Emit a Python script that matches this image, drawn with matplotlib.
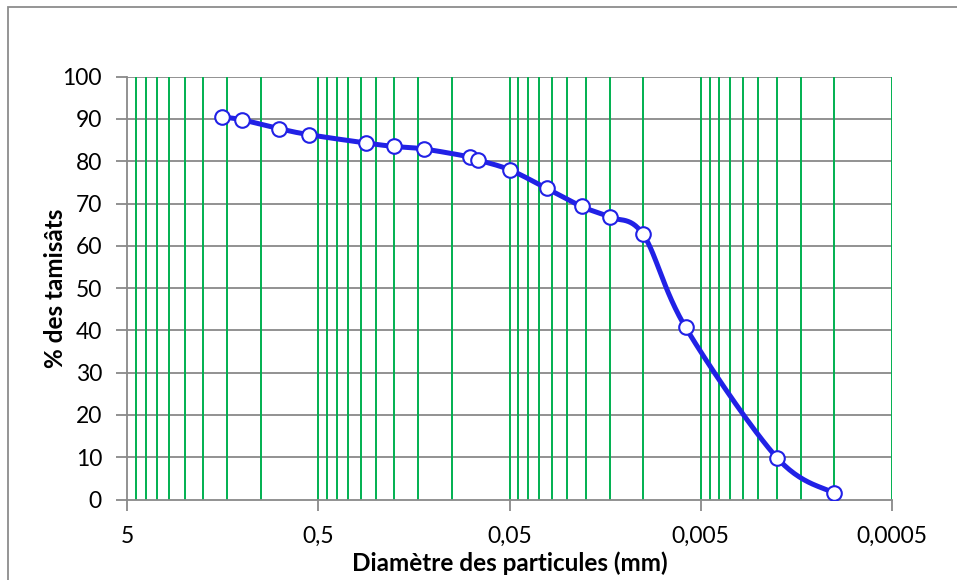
import numpy as np
import matplotlib
matplotlib.use("Agg")
from matplotlib import pyplot as plt
from matplotlib.patches import Rectangle

# particle diameters (mm) and passing percentages
diam = [1.6, 1.25, 0.8, 0.56, 0.28, 0.2, 0.14, 0.08, 0.073, 0.05,
        0.032, 0.021, 0.015, 0.010, 0.006, 0.002, 0.001]
pct = [90.5, 89.8, 87.7, 86.3, 84.3, 83.5, 82.9, 81.0, 80.3, 78.0,
       73.6, 69.3, 66.8, 62.7, 40.7, 9.9, 1.5]

major_ticks = [5, 0.5, 0.05, 0.005, 0.0005]
major_labels = ["5", "0,5", "0,05", "0,005", "0,0005"]
y_ticks = list(range(0, 101, 10))

blue = "#2121E6"
green = "#00B050"
grey = "#898989"

plt.rcParams['font.family'] = ['Lato', 'DejaVu Sans']


def smooth(xs, ys, sx, sy, n=30):
    # excel-like smoothed line: catmull-rom bezier in screen-ish space
    u = -np.log10(np.array(xs)) * sx
    v = np.array(ys) * sy
    pts = np.column_stack([u, v])
    pts = np.vstack([pts[0], pts, pts[-1]])
    out = []
    t = np.linspace(0, 1, n)[:, None]
    for i in range(1, len(pts) - 2):
        p0, p1, p2, p3 = pts[i - 1], pts[i], pts[i + 1], pts[i + 2]
        b1 = p1 + (p2 - p0) / 6
        b2 = p2 - (p3 - p1) / 6
        seg = ((1 - t) ** 3) * p1 + 3 * ((1 - t) ** 2) * t * b1 + 3 * (1 - t) * t ** 2 * b2 + t ** 3 * p2
        out.append(seg)
    out = np.vstack(out)
    return 10 ** (-out[:, 0] / sx), out[:, 1] / sy


fig = plt.figure(figsize=(9.57, 5.80), dpi=100)
ax = fig.add_axes([127 / 957, 1 - 499.5 / 580, (892 - 127) / 957, (499.5 - 76.7) / 580])

ax.set_xscale('log')
ax.set_xlim(5, 0.0005)
ax.set_ylim(0, 100)

# green vertical lines (major + minor), grey horizontal lines
minors = []
for dec in [0.5, 0.05, 0.005, 0.0005]:
    for k in range(2, 10):
        minors.append(dec * k)
for m in minors + major_ticks[1:]:
    ax.axvline(m, color=green, lw=1.4, zorder=1)
for yv in y_ticks[1:]:
    ax.axhline(yv, color=grey, lw=1.3, zorder=0.9)

sxv, syv = smooth(diam, pct, 191, 4.23)
ax.plot(sxv, syv, color=blue, lw=3.6, zorder=3, solid_capstyle='round')
ax.plot(diam, pct, linestyle='none', marker='o', markersize=10.5,
        markerfacecolor='white', markeredgecolor=blue, markeredgewidth=1.5, zorder=4)

ax.set_xticks(major_ticks)
ax.set_xticklabels(major_labels)
ax.xaxis.set_minor_locator(matplotlib.ticker.NullLocator())
ax.set_yticks(y_ticks)
ax.tick_params(axis='both', colors=grey, labelcolor='black', labelsize=16.5,
               length=8, width=1.3, direction='out')
ax.tick_params(axis='x', pad=11)
ax.tick_params(axis='y', pad=10)

for s in ['top', 'right']:
    ax.spines[s].set_visible(False)
for s in ['left', 'bottom']:
    ax.spines[s].set_color(grey)
    ax.spines[s].set_linewidth(1.3)

ax.set_xlabel("Diamètre des particules (mm)", fontsize=17.5, fontweight='bold', labelpad=3)
ax.set_ylabel("% des tamisâts", fontsize=17.5, fontweight='bold')
ax.yaxis.set_label_coords(-0.078, 0.5)

fig.patches.append(Rectangle((8 / 957, -0.1), 2, 1.1 - 7 / 580, transform=fig.transFigure,
                             fill=False, edgecolor='#8c8c8c', lw=1.3))

fig.savefig("out.png", dpi=100)
